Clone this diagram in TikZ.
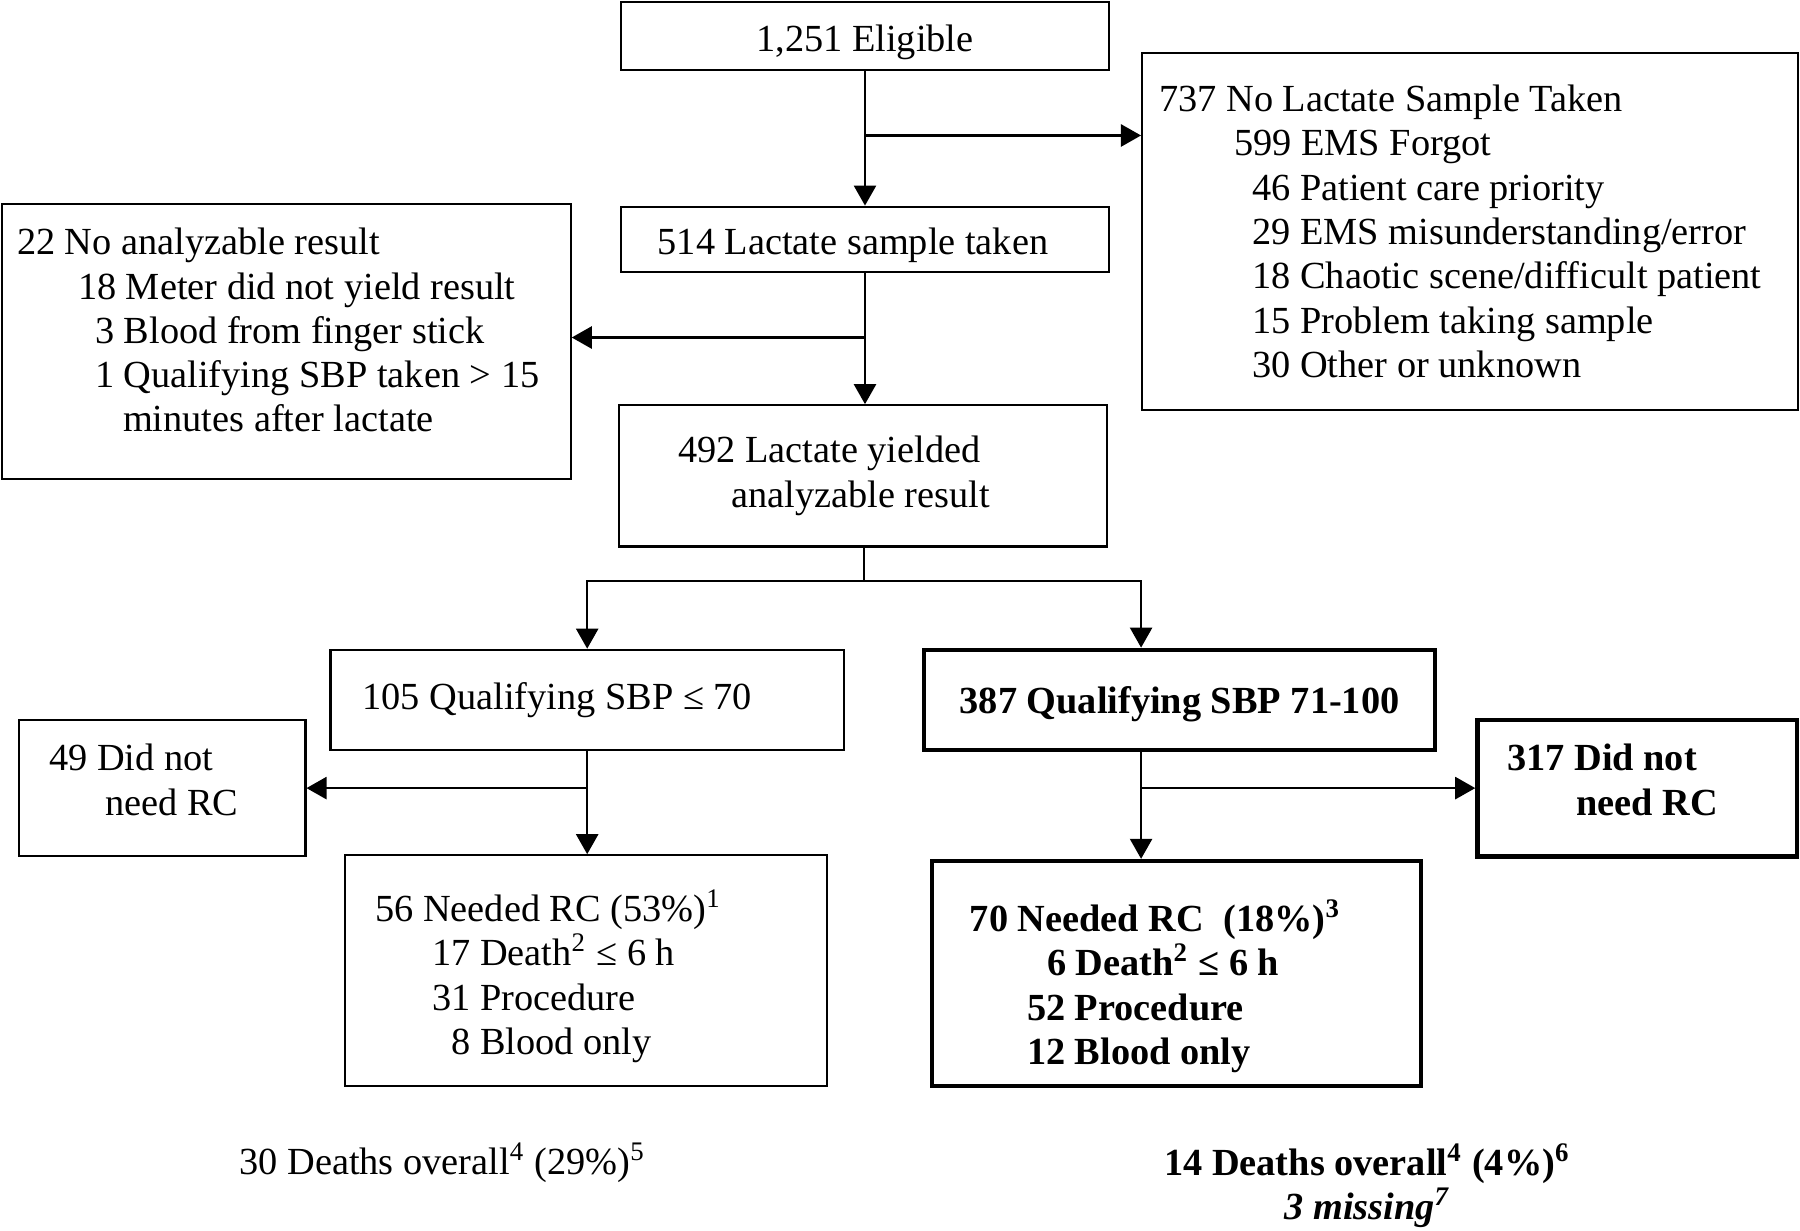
\documentclass[tikz,border=0pt]{standalone}
\usepackage{fontspec}
\setmainfont{Liberation Serif}
\usetikzlibrary{arrows.meta}

\begin{document}
\begin{tikzpicture}[
  x=0.01148cm, y=-0.01148cm,
  font=\fontsize{10.9}{12.6}\selectfont,
  box/.style={draw, line width=0.6pt, inner sep=0pt, align=flush left},
  boldbox/.style={box, line width=1.2pt, font=\fontsize{10.9}{12.6}\selectfont\bfseries},
  arr/.style={-{Triangle[length=5.7pt, width=6.3pt]}, line width=0.6pt},
  plain/.style={line width=0.6pt}
]
\useasboundingbox (0,0) rectangle (1568,1072);

% Screening
\node[box, align=center, minimum width=4.879cm, minimum height=0.677cm] (elig) at (753.5,31.5) {\raisebox{-0.06cm}[\height][\depth]{1,251 Eligible}};

\node[box, text width=6.21cm, minimum width=6.555cm, minimum height=3.57cm] (notaken) at (1280.5,201.5) {737 No Lactate Sample Taken\\
\hspace*{0.75cm}599 EMS Forgot\\
\hspace*{0.93cm}46 Patient care priority\\
\hspace*{0.93cm}29 EMS misunderstanding/error\\
\hspace*{0.93cm}18 Chaotic scene/difficult patient\\
\hspace*{0.93cm}15 Problem taking sample\\
\hspace*{0.93cm}30 Other or unknown};

\node[box, text width=4.144cm, minimum width=4.879cm, minimum height=0.654cm] (taken) at (753.5,208.5) {\raisebox{-0.06cm}[\height][\depth]{514 Lactate sample taken}};

\node[box, text width=5.385cm, minimum width=5.683cm, minimum height=2.744cm] (noresult) at (249.5,297.5) {22 No analyzable result\\
\hspace*{0.61cm}18 Meter did not yield result\\
\hspace*{0.78cm}3 Blood from finger stick\\
\hspace*{0.78cm}1 Qualifying SBP taken > 15\\
\hspace*{1.06cm}minutes after lactate\rule[-0.23cm]{0pt}{0pt}};

\node[box, text width=3.685cm, minimum width=4.879cm, minimum height=1.412cm] (yielded) at (751.5,414.5) {492 Lactate yielded\\
\hspace*{0.53cm}analyzable result};

% SBP groups
\node[box, text width=4.489cm, minimum width=5.132cm, minimum height=0.999cm] (low) at (511.5,609.5) {105 Qualifying SBP ≤ 70};
\node[boldbox, align=center, minimum width=5.109cm, minimum height=0.999cm] (mid) at (1027.5,609.5) {\raisebox{-0.05cm}[\height][\depth]{387 Qualifying SBP 71-100}};

\node[box, text width=2.262cm, minimum width=2.859cm, minimum height=1.366cm] (lownot) at (141.5,686.5) {49 Did not\\
\hspace*{0.56cm}need RC\rule[-0.17cm]{0pt}{0pt}};
\node[box, text width=4.213cm, minimum width=4.81cm, minimum height=2.307cm] (lowrc) at (510.5,845.5) {\rule{0pt}{0.43cm}56 Needed RC (53\%)\textsuperscript{1}\\
\hspace*{0.57cm}17 Death\textsuperscript{2} ≤ 6 h\\
\hspace*{0.57cm}31 Procedure\\
\hspace*{0.76cm}8 Blood only};

\node[boldbox, text width=2.594cm, minimum width=3.191cm, minimum height=1.366cm] (midnot) at (1426,686.5) {317 Did not\\
\hspace*{0.69cm}need RC\rule[-0.17cm]{0pt}{0pt}};
\node[boldbox, text width=4.132cm, minimum width=4.89cm, minimum height=2.25cm] (midrc) at (1025,848) {\rule{0pt}{0.57cm}70 Needed RC~ (18\%)\textsuperscript{3}\\
\hspace*{0.77cm}6 Death\textsuperscript{2} ≤ 6 h\\
\hspace*{0.57cm}52 Procedure\\
\hspace*{0.57cm}12 Blood only};

% Deaths
\node[anchor=west, inner sep=0pt] (lowdeaths) at (208,1013) {30 Deaths overall\textsuperscript{4} (29\%)\textsuperscript{5}};
\node[align=center, inner sep=0pt, font=\fontsize{10.9}{12.6}\selectfont\bfseries] (middeaths) at (1191,1033) {14 Deaths overall\textsuperscript{4} (4\%)\textsuperscript{6}\\
\textit{3 missing\textsuperscript{7}}};

% Arrows
\coordinate (b1) at (753,118);
\coordinate (b2) at (753,294);
\coordinate (split) at (753,506);
\coordinate (rsplit) at (994,506);

\draw[arr] (elig.south) -- (taken.north);
\draw[arr] (b1) -- (b1 -| notaken.west);
\draw[arr] (taken.south) -- (taken.south |- yielded.north);
\draw[arr] (b2) -- (b2 -| noresult.east);
\draw[plain] (split |- yielded.south) -- (split);
\draw[arr] (split) -| (low.north);
\draw[arr] (split) -| (rsplit |- mid.north);
\draw[arr] (low.south) -- (low.south |- lowrc.north);
\draw[arr] (low.south |- lownot.east) -- (lownot.east);
\draw[arr] (rsplit |- mid.south) -- (rsplit |- midrc.north);
\draw[arr] (rsplit |- midnot.west) -- (midnot.west);
\end{tikzpicture}
\end{document}
